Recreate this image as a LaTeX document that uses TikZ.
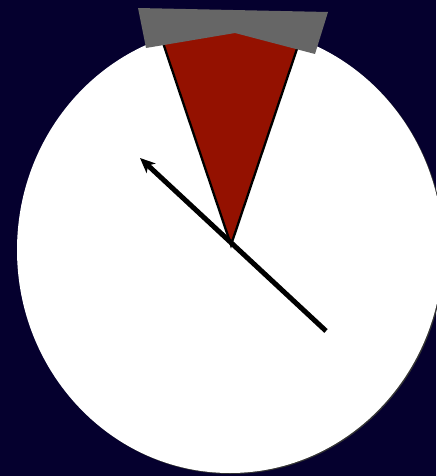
\documentclass[tikz,border=0pt]{standalone}
\usetikzlibrary{arrows.meta}
\definecolor{bgnavy}{RGB}{5,0,46}
\definecolor{wedgered}{RGB}{148,17,0}
\definecolor{capgray}{RGB}{102,102,102}
\tikzset{
  px/.style={x=1pt,y=-1pt},
  wedgeline/.style={draw=black,line width=2.3pt,line join=miter},
  needle/.style={draw=black,line width=5pt,-{Stealth[length=15pt,width=13pt,inset=4pt]}}
}
\begin{document}
\begin{tikzpicture}[px]
\fill[bgnavy] (0,0) rectangle (436,476);
\useasboundingbox (0,0) rectangle (436,476);
% dial face with slight shadow
\fill[black!80] (231.2,251) ellipse [x radius=213, y radius=223];
\fill[white] (230,250) ellipse [x radius=213, y radius=223];
% red wedge
\coordinate (apex) at (231,245);
\coordinate (wl) at (158,28);
\coordinate (wr) at (304,28);
\fill[wedgered] (apex) -- (wl) -- (wr) -- cycle;
\draw[wedgeline] (wl) -- (apex) -- (wr);
% gray cap
\fill[capgray] (138,8) -- (328,12) -- (315,54) -- (235,33) -- (146,48) -- cycle;
% needle
\coordinate (tail) at (326,331);
\coordinate (tip) at (140,158);
\draw[needle] (tail) -- (tip);
\end{tikzpicture}
\end{document}
